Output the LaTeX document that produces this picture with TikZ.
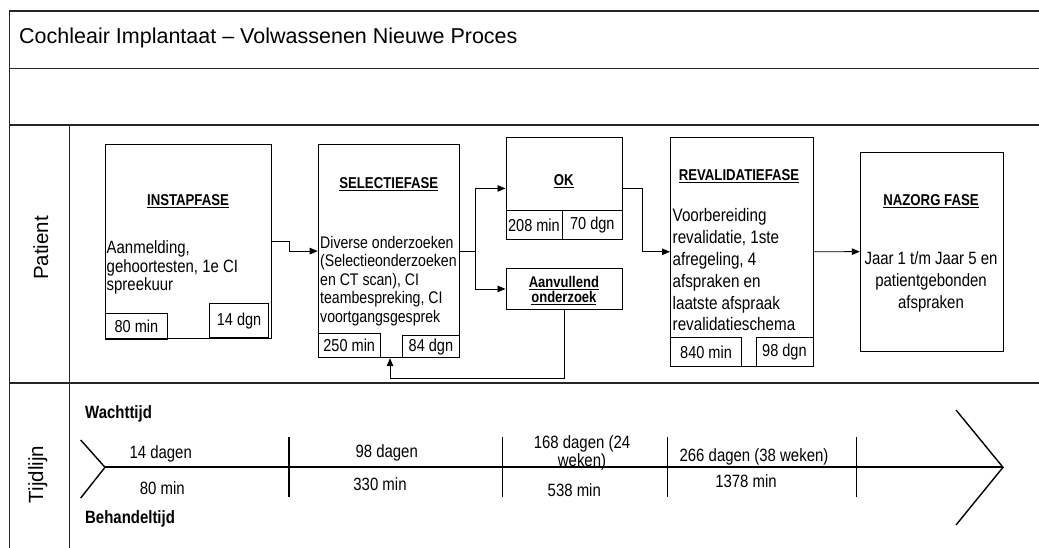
\documentclass[tikz,border=0pt]{standalone}
\usepackage{fontspec}
\setmainfont{Liberation Sans}
\newfontfamily\nf{Liberation Sans}[FakeStretch=0.84]
\usetikzlibrary{arrows.meta}
\begin{document}
\begin{tikzpicture}[x=1pt,y=-1pt,
  frame/.style={draw=black!85, line width=1.2pt},
  box/.style={draw=black, line width=0.9pt, inner sep=0pt, anchor=north west},
  ibox/.style={draw=black, line width=0.8pt, inner sep=0pt, anchor=north west, font=\nf\fontsize{17.3}{19}\selectfont},
  arr/.style={draw=black, line width=0.9pt, -{Triangle[length=8pt,width=6.5pt]}},
  ttl/.style={inner sep=0pt, anchor=base, font=\nf\bfseries\fontsize{15.7}{18}\selectfont},
  lbl/.style={inner sep=0pt, anchor=base, font=\nf\fontsize{17.8}{20}\selectfont},
  blbl/.style={inner sep=0pt, anchor=base west, font=\nf\bfseries\fontsize{17.8}{20}\selectfont},
  chev/.style={line width=1.4pt},
  tick/.style={line width=1.4pt}]
\useasboundingbox (0,0) rectangle (1039,548);
% frame
\draw[frame] (1039,11) -- (9.5,11) -- (9.5,548);
\draw[frame] (9.5,68.5) -- (1039,68.5);
\draw[frame] (9.5,125) -- (1039,125);
\draw[frame] (9.5,383) -- (1039,383);
\draw[frame] (69.5,125) -- (69.5,548);
% title and lane labels
\node[anchor=base west, inner sep=0pt, font=\fontsize{21.5}{25}\selectfont] (title) at (19,43.2) {Cochleair Implantaat – Volwassenen Nieuwe Proces};
\node[rotate=90, inner sep=0pt, font=\fontsize{20.5}{24}\selectfont] (patient) at (40.8,248) {Patient};
\node[rotate=90, anchor=base, inner sep=0pt, font=\fontsize{20.5}{24}\selectfont] (tijdlijn) at (43,474.5) {Tijdlijn};
% phase boxes
\node[box, minimum width=166pt, minimum height=194pt] (instap) at (105,144) {};
\node[box, minimum width=141.6pt, minimum height=213.3pt] (selectie) at (317.7,144) {};
\node[box, minimum width=116.8pt, minimum height=102.6pt] (ok) at (505.5,136.7) {};
\node[box, minimum width=116.8pt, minimum height=41pt] (aanv) at (505.5,268) {};
\node[box, minimum width=142.6pt, minimum height=229.3pt] (rev) at (670,136.7) {};
\node[box, minimum width=143.2pt, minimum height=199pt] (naz) at (859.8,151.7) {};
% inner time boxes
\node[ibox, minimum width=62pt, minimum height=26.6pt] (i80) at (105,312.7) {80 min};
\node[ibox, minimum width=59.3pt, minimum height=34.3pt] (i14) at (209,303) {14 dgn};
\node[ibox, minimum width=62.3pt, minimum height=24pt] (i250) at (317.7,333.3) {250 min};
\node[ibox, minimum width=57.6pt, minimum height=22.3pt] (i84) at (401.7,335) {84 dgn};
\node[ibox, minimum width=56.1pt, minimum height=29.3pt] (i208) at (505.5,210) {208 min};
\node[ibox, minimum width=60.7pt, minimum height=29.3pt] (i70) at (561.6,210) {70 dgn};
\node[ibox, minimum width=71.3pt, minimum height=28.7pt] (i840) at (670,337.3) {840 min};
\node[ibox, minimum width=57.1pt, minimum height=28.7pt] (i98) at (755.5,337.3) {98 dgn};
% box titles
\node[ttl] (t1) at (188,205.6) {\underline{INSTAPFASE}};
\node[ttl] (t2) at (388.8,188.9) {\underline{SELECTIEFASE}};
\node[ttl] (t3) at (563.7,185.6) {\underline{OK}};
\node[ttl] (t4) at (739,180.6) {\underline{REVALIDATIEFASE}};
\node[ttl] (t5) at (931,205.6) {\underline{NAZORG FASE}};
\node[anchor=north, inner sep=0pt, align=center, font=\nf\bfseries\fontsize{15.5}{15}\selectfont] (t6) at (563.9,276.5) {\underline{Aanvullend}\\\underline{onderzoek}};
% box bodies
\node[anchor=north west, inner sep=0pt, align=left, font=\nf\fontsize{17.8}{18.5}\selectfont] (b1) at (106.5,240.6) {Aanmelding,\\gehoortesten, 1e CI\\spreekuur};
\node[anchor=north west, inner sep=0pt, align=left, font=\nf\fontsize{16.8}{18.5}\selectfont] (b2) at (320,236) {Diverse onderzoeken\\(Selectieonderzoeken\\en CT scan), CI\\teambespreking, CI\\voortgangsgesprek};
\node[anchor=north west, inner sep=0pt, align=left, font=\nf\fontsize{18.1}{21.8}\selectfont] (b4) at (672.5,208.5) {Voorbereiding\\revalidatie, 1ste\\afregeling, 4\\afspraken en\\laatste afspraak\\revalidatieschema};
\node[anchor=north, inner sep=0pt, align=center, font=\nf\fontsize{17.8}{21.7}\selectfont] (b5) at (931,251.7) {Jaar 1 t/m Jaar 5 en\\patientgebonden\\afspraken};
% connectors
\draw[arr] (instap.east) -- ++(17.3,0) |- (selectie.west);
\draw[arr] (selectie.east) -- ++(15.7,0) |- (ok.west);
\draw[arr] (selectie.east) -- ++(15.7,0) |- (aanv.west);
\draw[arr] (ok.east) -- ++(19,0) |- (rev.west);
\draw[arr] (rev.east) -- (naz.west);
\coordinate (fb) at (390,378.3);
\draw[arr] (aanv.south) |- (fb) -- (fb |- selectie.south);
% timeline
\coordinate (tl) at (105,467.3);
\coordinate (tr) at (1003,467.3);
\draw[line width=2pt] (tl) -- (tr);
\draw[chev] (80.7,440) -- (tl) -- (80.7,498);
\draw[chev] (956,410) -- (tr) -- (956,525);
\foreach \x in {289,502.3,667.3,856.7} \draw[tick] (\x,437.3) -- (\x,496.7);
\node[blbl] (w) at (85,418.4) {Wachttijd};
\node[blbl] (bh) at (85,523.3) {Behandeltijd};
\node[lbl] (l1) at (160.7,458.1) {14 dagen};
\node[lbl] (l2) at (162.3,494.7) {80 min};
\node[lbl] (l3) at (386.7,457.1) {98 dagen};
\node[lbl] (l4) at (380,490.4) {330 min};
\node[anchor=north, inner sep=0pt, align=center, font=\nf\fontsize{17.8}{18.3}\selectfont] (l5) at (582,435.3) {168 dagen (24\\weken)};
\node[lbl] (l6) at (574.3,496.4) {538 min};
\node[lbl] (l7) at (754,461.4) {266 dagen (38 weken)};
\node[lbl] (l8) at (746,487.4) {1378 min};
\end{tikzpicture}
\end{document}
